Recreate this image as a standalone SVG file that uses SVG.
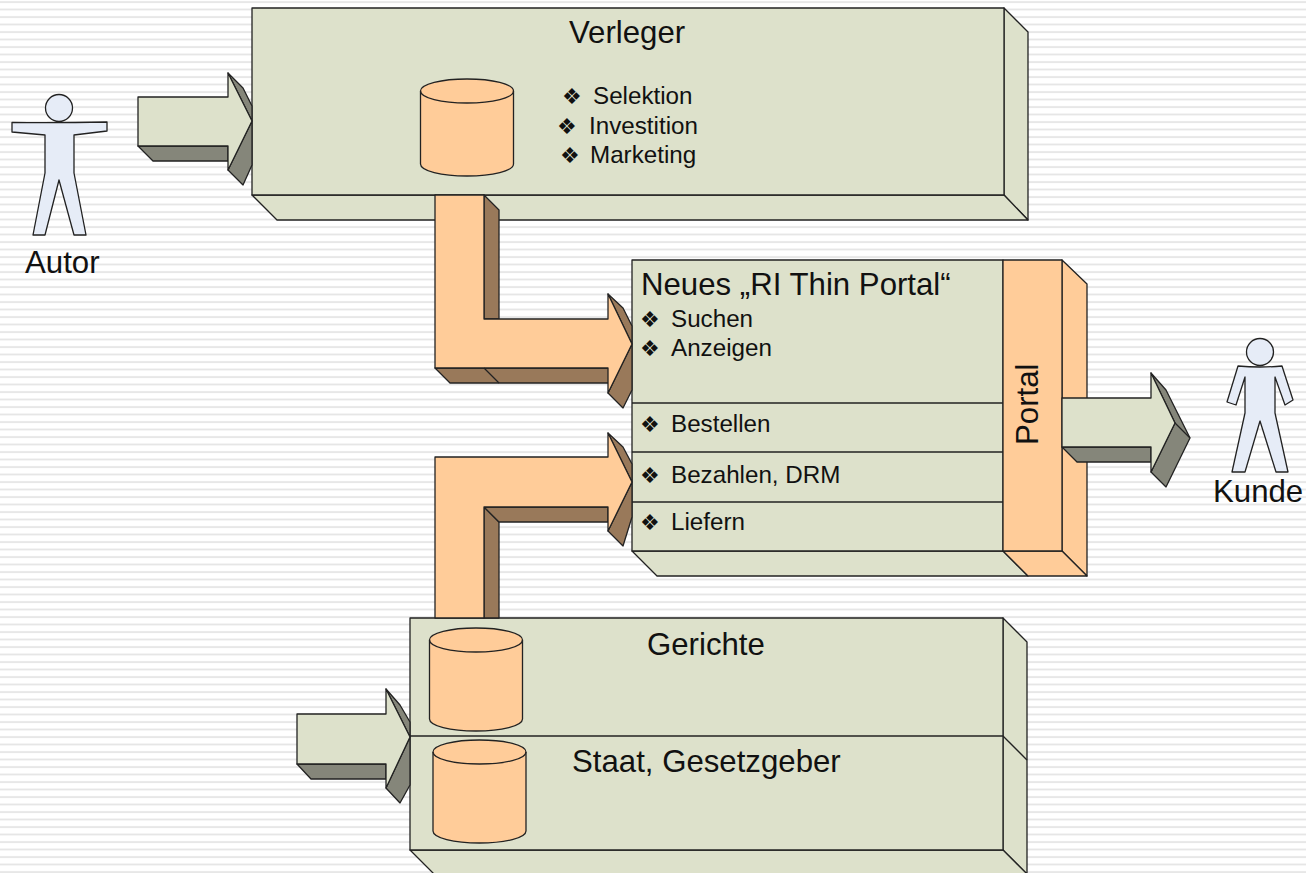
<svg xmlns="http://www.w3.org/2000/svg" width="1306" height="873" viewBox="0 0 1306 873">
<style>
.g{fill:#dde1cb;stroke:#222;stroke-width:1.3;stroke-linejoin:round}
.o{fill:#ffcc99;stroke:#222;stroke-width:1.3;stroke-linejoin:round}
.b{fill:#99795a;stroke:#222;stroke-width:1.3;stroke-linejoin:round}
.s{fill:#85867a;stroke:#222;stroke-width:1.3;stroke-linejoin:round}
.p{fill:#e6ecf7;stroke:#222;stroke-width:1.3;stroke-linejoin:round}
.l{fill:none;stroke:#222;stroke-width:1.3}
text{font-family:"Liberation Sans",Arial,sans-serif;fill:#111}
.t{font-size:31.2px}
.m{font-size:24.2px}
.d{font-family:"DejaVu Sans",sans-serif;font-size:22px}
</style>
<defs>
<pattern id="stripes" width="40" height="7.5" patternUnits="userSpaceOnUse">
<rect x="0" y="1.2" width="40" height="1.7" fill="#e3e3e3"/>
</pattern>
<g id="cyl">
<path class="o" d="M0 12V85C0 92 21 97 46.500 97S93 92 93 85V12C93 5 72 0 46.500 0S0 5 0 12Z"/>
<path class="l" d="M0 12C0 19 21 24 46.500 24S93 19 93 12"/>
</g>
<g id="cyl2">
<path class="o" d="M0 12V91C0 98 21 103 46.500 103S93 98 93 91V12C93 5 72 0 46.500 0S0 5 0 12Z"/>
<path class="l" d="M0 12C0 19 21 24 46.500 24S93 19 93 12"/>
</g>
</defs>
<rect width="1306" height="873" fill="#fff"/>
<rect width="1306" height="873" fill="url(#stripes)"/>

<g id="autor">
<path class="p" d="M12 122.500Q59 123 107 122V131L74 135V173L86 235H74L59 180L45 235H33L45 173V135L12 132Z"/>
<circle class="p" cx="59" cy="108" r="13.500"/>
<text class="t" x="25" y="273">Autor</text>
</g>

<g id="verleger">
<path class="g" d="M1004 8L1028 32V220L1004 195Z"/>
<path class="g" d="M252 195L277 220H1028L1004 195Z"/>
<rect class="g" x="252" y="8" width="752" height="187"/>
<use href="#cyl" x="420.500" y="79"/>
<text class="t" x="569" y="43">Verleger</text>
<text class="d" x="562" y="104">❖</text><text class="m" x="593" y="104">Selektion</text>
<text class="d" x="557" y="134">❖</text><text class="m" x="589" y="134">Investition</text>
<text class="d" x="560" y="163">❖</text><text class="m" x="590" y="163">Marketing</text>
</g>

<g id="portal">
<path class="g" d="M632 551L657 576H1028L1003 551Z"/>
<rect class="g" x="632" y="260" width="371" height="291"/>
<path class="l" d="M632 403H1003M632 452H1003M632 502H1003"/>
<path class="o" d="M1062 260L1087 284V576L1062 551Z"/>
<path class="o" d="M1003 551L1028 576H1087L1062 551Z"/>
<rect class="o" x="1003" y="260" width="59" height="291"/>
<text class="t" x="641" y="295">Neues „RI Thin Portal“</text>
<text class="d" x="640" y="327">❖</text><text class="m" x="671" y="327">Suchen</text>
<text class="d" x="640" y="356">❖</text><text class="m" x="671" y="356">Anzeigen</text>
<text class="d" x="640" y="432">❖</text><text class="m" x="671" y="432">Bestellen</text>
<text class="d" x="640" y="483">❖</text><text class="m" x="671" y="483">Bezahlen, DRM</text>
<text class="d" x="640" y="530">❖</text><text class="m" x="671" y="530">Liefern</text>
<text class="t" transform="translate(1038 445) rotate(-90)">Portal</text>
</g>

<g id="kunde">
<path class="p" d="M1238 366Q1260 368 1282 366L1293 400L1285 405L1275 377V413L1288 472H1276L1260 421L1245 472H1232L1245 413V377L1236 405L1227 402Z"/>
<circle class="p" cx="1260" cy="352" r="13.500"/>
<text class="t" x="1213" y="502">Kunde</text>
</g>

<g id="gerichte">
<path class="g" d="M1003 618L1027 642V874L1003 850Z"/>
<path class="l" d="M1003 736L1027 760"/>
<path class="g" d="M410 850L434 874H1027L1003 850Z"/>
<rect class="g" x="410" y="618" width="593" height="232"/>
<path class="l" d="M410 736H1003"/>
<use href="#cyl2" x="429.500" y="628"/>
<use href="#cyl2" x="433" y="740"/>
<text class="t" x="647" y="655">Gerichte</text>
<text class="t" x="572" y="772">Staat, Gesetzgeber</text>
</g>

<g id="connectors">
<g id="arrow-autor">
<path class="s" d="M138 146L153 161H228V146Z"/>
<path class="s" d="M228 73L243 88L252 106V165L243 185L228 170L252 121Z"/>
<path class="g" d="M138 97H228V73L252 121L228 170V146H138Z"/>
</g>
<g id="arrow-verleger-portal">
<path class="b" d="M484 195L499 210V319H484Z"/>
<path class="b" d="M435 368L450 383H623V368Z"/>
<path class="b" d="M608 294L623 308L632 326V390L623 408L608 393L632 344Z"/>
<path class="o" d="M435 195H484V319H608V294L632 344L608 393V368H435Z"/>
<path class="l" d="M484 368L499 383"/>
</g>
<g id="arrow-gerichte-portal">
<path class="b" d="M484 507L499 522V618H484Z"/>
<path class="b" d="M484 507H608V522H499Z"/>
<path class="b" d="M608 433L623 447L632 464V517L623 546L608 531L632 482Z"/>
<path class="o" d="M435 618V457H608V433L632 482L608 531V507H484V618Z"/>
</g>
<g id="arrow-portal-kunde">
<path class="s" d="M1062 447L1077 462H1151V447Z"/>
<path class="s" d="M1151 373L1166 390L1190 438L1166 487L1151 472L1175 423Z"/>
<path class="l" d="M1175 423L1190 438"/>
<path class="g" d="M1062 398H1151V373L1175 423L1151 472V447H1062Z"/>
</g>
<g id="arrow-staat">
<path class="s" d="M297 764L311 779H386V764Z"/>
<path class="s" d="M386 689L400 705L410 722V785L400 803L386 788L410 737Z"/>
<path class="g" d="M297 714H386V689L410 737L386 788V764H297Z"/>
</g>
</g>
</svg>
